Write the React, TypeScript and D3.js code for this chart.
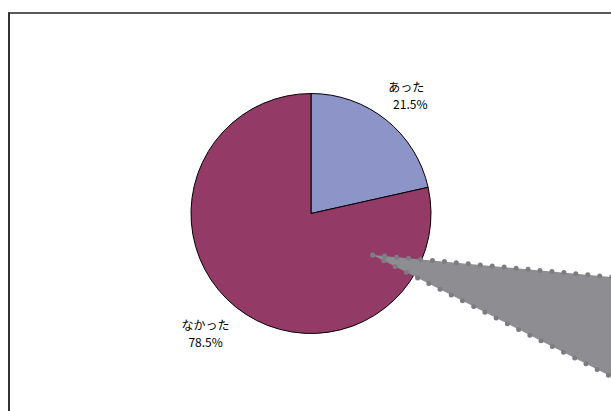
import React from "react";
import * as d3 from "d3";

const categories = ["あった", "なかった"];
const values = [21.5, 78.5];
const percentLabels = ["21.5%", "78.5%"];
const colors = ["#8C94C8", "#943A67"];

const W = 611;
const H = 411;
const cx = 311;
const cy = 213.5;
const R = 120;

export default function App() {
  const pie = d3.pie<number>().sort(null).value((d) => d)(values);
  const arc = d3.arc<d3.PieArcDatum<number>>().innerRadius(0).outerRadius(R);
  const labelArcs = [
    { r: 154, dx: -1, pdx: 4 },
    { r: 151, dx: -11, pdx: 0 },
  ];

  // decorative callout wedge (relative to pie center)
  const tip: [number, number] = [cx + 61.7, cy + 41.5];
  const topSlope = 0.092;
  const botSlope = 0.51;
  const xEnd = W + 30;
  const topEnd: [number, number] = [xEnd, tip[1] + topSlope * (xEnd - tip[0])];
  const botEnd: [number, number] = [xEnd, tip[1] + botSlope * (xEnd - tip[0])];
  const line = d3.line();

  return (
    <svg
      width={W}
      height={H}
      style={{ position: "absolute", left: 0, top: 0, background: "#fff" }}
      fontFamily="'Noto Sans CJK JP', sans-serif"
    >
      <rect x={0} y={0} width={W} height={H} fill="#fff" />
      <line x1={8} y1={13} x2={W} y2={13} stroke="#222" strokeWidth={1.3} />
      <line x1={9} y1={12.5} x2={9} y2={H} stroke="#333" strokeWidth={2} />
      <g transform={`translate(${cx},${cy})`}>
        {pie.map((p, i) => (
          <path key={i} d={arc(p) || ""} fill={colors[i]} stroke="#000" strokeWidth={1} />
        ))}
        {pie.map((p, i) => {
          const a = (p.startAngle + p.endAngle) / 2;
          const x = Math.sin(a) * labelArcs[i].r + labelArcs[i].dx;
          const y = -Math.cos(a) * labelArcs[i].r;
          return (
            <g key={"l" + i} transform={`translate(${x},${y})`} fontSize={12} fill="#000" textAnchor="middle">
              <text y={-1}>{categories[i]}</text>
              <text y={16} x={labelArcs[i].pdx}>{percentLabels[i]}</text>
            </g>
          );
        })}
      </g>
      <path
        d={(line([tip, topEnd, botEnd]) || "") + "Z"}
        fill="#8E8E92"
        stroke="none"
      />
      <path
        d={line([tip, topEnd]) || ""}
        fill="none"
        stroke="#7C7C81"
        strokeWidth={5}
        strokeLinecap="round"
        strokeDasharray="0 12"
      />
      <path
        d={line([tip, botEnd]) || ""}
        fill="none"
        stroke="#7C7C81"
        strokeWidth={5}
        strokeLinecap="round"
        strokeDasharray="0 12.6"
      />
    </svg>
  );
}
